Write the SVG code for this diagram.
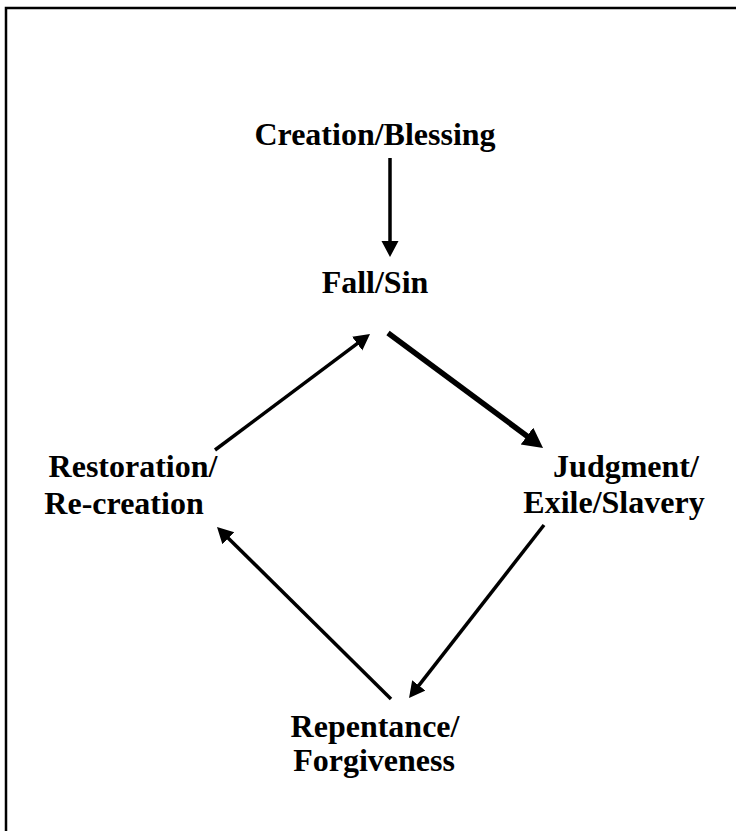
<svg xmlns="http://www.w3.org/2000/svg" width="736" height="831" viewBox="0 0 736 831">
<style>
.lbl{font-family:"Liberation Serif","Times New Roman",serif;font-weight:bold;font-size:32px;fill:#000;text-anchor:middle}
.c{stroke:#000;stroke-width:3.5;fill:none}
.ct{stroke:#000;stroke-width:5.5;fill:none}
.frame{stroke:#000;stroke-width:2.5;fill:none}
</style>
<defs>
<marker id="ah" markerUnits="userSpaceOnUse" markerWidth="18" markerHeight="18" refX="5" refY="8.5" orient="auto">
<path d="M0,0 L16,8.5 L0,17 z" fill="#000"/>
</marker>
<marker id="ahb" markerUnits="userSpaceOnUse" markerWidth="22" markerHeight="22" refX="7" refY="10.5" orient="auto">
<path d="M0,0 L20,10.5 L0,21 z" fill="#000"/>
</marker>
</defs>
<rect width="736" height="831" fill="#fff"/>
<path class="frame" d="M6,831 V8 H736"/>
<g id="connectors">
<line class="c" x1="390" y1="158" x2="390" y2="246" marker-end="url(#ah)"/>
<line class="c" x1="215" y1="450" x2="361.2" y2="340.6" marker-end="url(#ah)"/>
<line class="ct" x1="388" y1="333" x2="532.6" y2="440.2" marker-end="url(#ahb)"/>
<line class="c" x1="544" y1="525" x2="415.8" y2="689.3" marker-end="url(#ah)"/>
<line class="c" x1="391" y1="699" x2="224.8" y2="534.7" marker-end="url(#ah)"/>
</g>
<g id="creation"><text class="lbl" x="375" y="145">Creation/Blessing</text></g>
<g id="fall"><text class="lbl" x="375" y="293">Fall/Sin</text></g>
<g id="restoration"><text class="lbl"><tspan x="133" y="477">Restoration/</tspan><tspan x="124" y="514">Re-creation</tspan></text></g>
<g id="judgment"><text class="lbl"><tspan x="626" y="477">Judgment/</tspan><tspan x="614" y="513">Exile/Slavery</tspan></text></g>
<g id="repentance"><text class="lbl"><tspan x="375" y="737">Repentance/</tspan><tspan x="374" y="771">Forgiveness</tspan></text></g>
</svg>
